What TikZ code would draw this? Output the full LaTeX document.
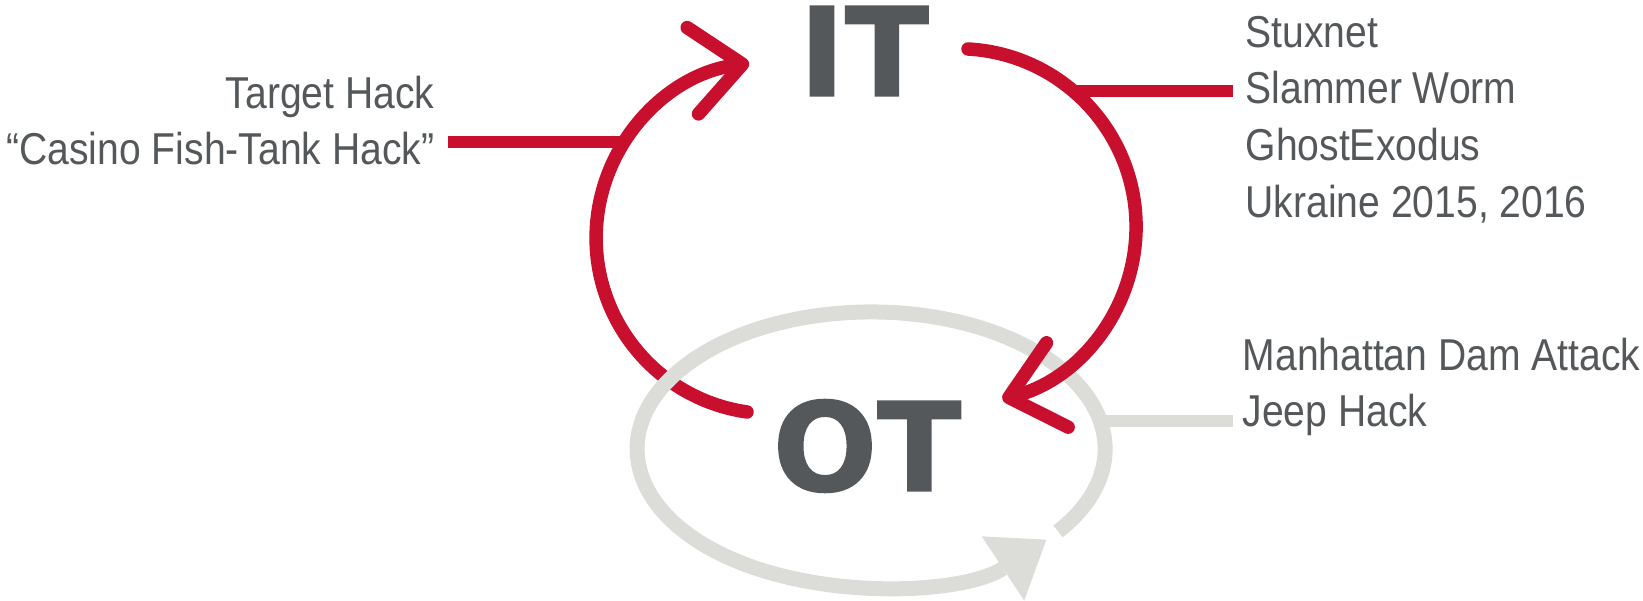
\documentclass[tikz,border=0pt]{standalone}
\usepackage{fontspec}
\setmainfont{Liberation Sans}[FakeStretch=0.875]
\newfontface\heavyfont{DejaVu Sans Bold}[FakeBold=1.2]
\usetikzlibrary{arrows.meta,positioning}
\definecolor{itred}{HTML}{C8102E}
\definecolor{itgrey}{HTML}{54585A}
\definecolor{otgrey}{HTML}{DCDDD8}

\begin{document}
\begin{tikzpicture}[
  x=0.01cm, y=0.01cm,
  bigtxt/.style={font=\heavyfont\fontsize{35}{35}\selectfont, text=itgrey, inner sep=0pt},
  lbl/.style={font=\fontsize{12.7}{16.1}\selectfont, text=itgrey, inner sep=0pt},
  redarc/.style={draw=itred, line width=1.35mm, line cap=round, -{Straight Barb[length=5mm, width=8.7mm, round]}},
  redtap/.style={draw=itred, line width=1.2mm},
  greyloop/.style={draw=otgrey, line width=1.5mm, -{Triangle[length=5.2mm, width=7.7mm, line width=0pt]}},
  greytap/.style={draw=otgrey, line width=1.2mm}
]
\useasboundingbox (0,0) rectangle (1643,600);

% the two domains
\node[bigtxt] (it) at (864,549) {IT};
\node[bigtxt] (ot) at (867,154) {OT};

% incident lists (base = last line)
\node[lbl, anchor=base east, align=right] (hackL) at (435,435) {Target Hack\\“Casino Fish-Tank Hack”};
\node[lbl, anchor=base west, align=left] (hackR) at (1245,383) {Stuxnet\\Slammer Worm\\GhostExodus\\Ukraine 2015, 2016};
\node[lbl, anchor=base west, align=left] (hackOT) at (1242,173) {Manhattan Dam Attack\\Jeep Hack};

% arc end points
\coordinate (otL) at (747,188);
\coordinate (itR) at (968,551);
\coordinate (tapL) at (625,458);
\coordinate (tapR) at (1073,508.5);
\coordinate (tapOT) at (1100,179);
\coordinate (loopStart) at (1058,68.6);

% OT -> IT, passes behind the OT loop
\draw[redarc] (otL) arc[start angle=261.8, end angle=97.5, radius=176];
\draw[redtap] ([xshift=1.3mm]hackL.east |- tapL) -- (tapL);

% OT loop
\draw[greyloop] (loopStart) arc[start angle=-37, end angle=318.5, x radius=234, y radius=137];
\draw[greytap] (tapOT) -- ([xshift=-0.9mm]hackOT.west |- tapOT);

% IT -> OT
\draw[redarc] (itR) arc[start angle=86.8, end angle=-75.6, radius=178];
\draw[redtap] (tapR) -- ([xshift=-1.2mm]hackR.west |- tapR);

\end{tikzpicture}
\end{document}
